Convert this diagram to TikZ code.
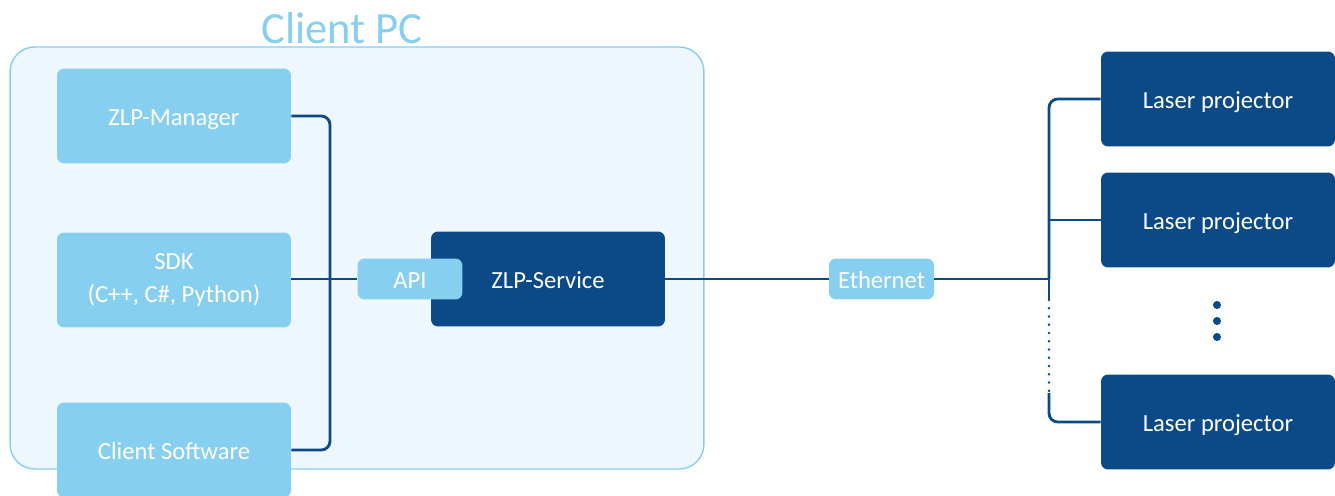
\documentclass[tikz,border=0pt]{standalone}
\usepackage{fontspec}
\setmainfont{Carlito}
\usetikzlibrary{positioning}
\definecolor{zlpdark}{HTML}{0B4A86}
\definecolor{zlplight}{HTML}{87CFF1}
\definecolor{pcfill}{HTML}{EEF7FD}
\definecolor{pcline}{HTML}{87CEEF}
\tikzset{
lightbox/.style={
  rectangle,
  fill=zlplight,
  text=white,
  align=center,
  rounded corners=4pt,
  minimum width=4.68cm,
  minimum height=1.9cm,
  font=\fontsize{14pt}{18.8pt}\selectfont},
darkbox/.style={
  lightbox,
  fill=zlpdark},
tagbox/.style={
  lightbox,
  minimum width=2.1cm,
  minimum height=0.82cm},
oneline/.style={text height=13pt, text depth=2pt},
bus/.style={draw=zlpdark, line width=1.6pt, rounded corners=5pt}
}
\begin{document}
\begin{tikzpicture}[x=0.02cm,y=-0.02cm]
    \useasboundingbox (0,0) rectangle (1335,496);
    % client pc frame
    \node [draw=pcline, fill=pcfill, line width=0.8pt, rounded corners=14pt, %
      minimum width=13.88cm, minimum height=8.44cm] (pc) at (357,258) {};
    \node [text=pcline, font=\fontsize{25.4pt}{30pt}\selectfont] (pctitle) at (342,28) {Client PC};
    \node [lightbox, oneline] (mgr) at (174,116) {ZLP-Manager};
    \node [lightbox] (sdk) at (174,280) {SDK\\(C++, C\#, Python)};
    \node [lightbox, oneline] (sw) at (174,450) {Client Software};
    \node [darkbox, oneline] (svc) at (548,279) {ZLP-Service};
    \node [tagbox, oneline] (api) at (410,279) {API};
    \node [tagbox, oneline] (eth) at (881.5,279) {Ethernet};
    \node [darkbox, oneline] (lp1) at (1218,99) {Laser projector};
    \node [darkbox, oneline] (lp2) at (1218,220) {Laser projector};
    \node [darkbox, oneline] (lp3) at (1218,422) {Laser projector};
    \coordinate (busL) at (330,279);
    \coordinate (busR) at (1049,279);
    \coordinate (dotA) at (1049,300);
    \coordinate (dotB) at (1049,393);
    \path [bus] (mgr.east) -| (busL) |- (sw.east);
    \path [bus] (sdk.east |- busL) -- (api.west);
    \path [bus] (svc.east) -- (eth.west);
    \path [bus] (eth.east) -- (busR);
    \path [bus] (busR) |- (lp1.west);
    \path [bus] (lp2.west -| busR) -- (lp2.west);
    \path [bus] (busR) -- (dotA);
    \path [bus, line cap=round, dash pattern=on 0pt off 4.7pt] (dotA) -- (dotB);
    \path [bus] (dotB) |- (lp3.west);
    \foreach \y in {305,321,337}
      \fill[zlpdark] (1217,\y) circle (0.08cm);
\end{tikzpicture}
\end{document}
